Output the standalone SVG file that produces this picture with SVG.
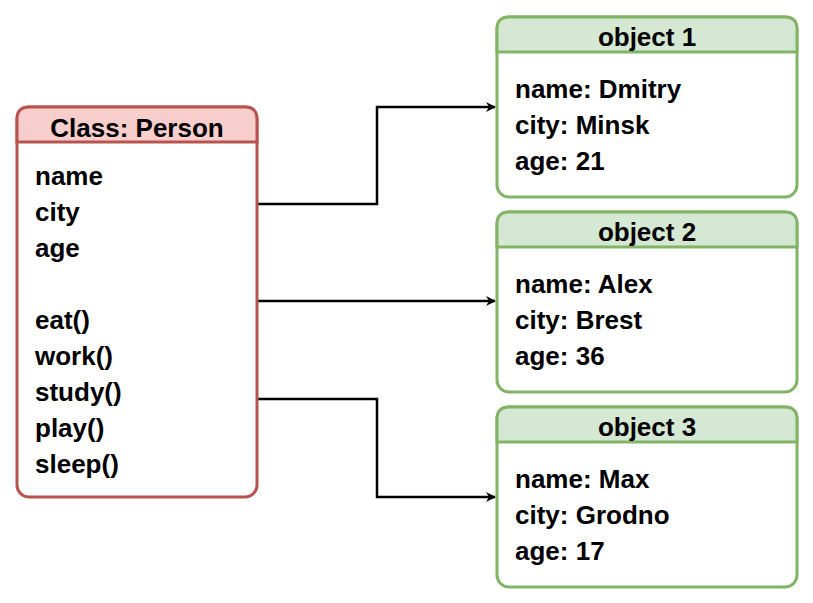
<svg xmlns="http://www.w3.org/2000/svg" width="813" height="603" viewBox="0 0 813 603">
<style>
text{font-family:"Liberation Sans",Arial,sans-serif;font-weight:bold;font-size:26px;fill:#000}
.t{text-anchor:middle}
.cls{fill:#fff;stroke:#b85450;stroke-width:3}
.clh{fill:#f8cecc;stroke:#b85450;stroke-width:3}
.ob{fill:#fff;stroke:#82b366;stroke-width:3}
.obh{fill:#d5e8d4;stroke:#82b366;stroke-width:3}
.c{fill:none;stroke:#000;stroke-width:2.5}
</style>
<defs><marker id="a" markerWidth="10" markerHeight="10" refX="9" refY="5" orient="auto" markerUnits="userSpaceOnUse"><path d="M0,0 L10,5 L0,10 L3,5 Z" fill="#000"/></marker></defs>
<rect width="813" height="603" fill="#fff"/>
<g id="connectors">
<path class="c" d="M257,204 H377 V107 H495" marker-end="url(#a)"/>
<path class="c" d="M257,301 H495" marker-end="url(#a)"/>
<path class="c" d="M257,399 H377 V497 H495" marker-end="url(#a)"/>
</g>
<g id="person">
<rect class="cls" x="17" y="107" width="240" height="390" rx="12"/>
<path class="clh" d="M17,142 V119 Q17,107 29,107 H245 Q257,107 257,119 V142 Z"/>
<text class="t" x="137" y="137">Class: Person</text>
<text x="35" y="185">name</text><text x="35" y="221">city</text><text x="35" y="257">age</text>
<text x="35" y="329">eat()</text><text x="35" y="365">work()</text><text x="35" y="401">study()</text><text x="35" y="437">play()</text><text x="35" y="473">sleep()</text>
</g>
<g id="obj1">
<rect class="ob" x="497" y="17" width="300" height="180" rx="12"/>
<path class="obh" d="M497,52 V29 Q497,17 509,17 H785 Q797,17 797,29 V52 Z"/>
<text class="t" x="647" y="46">object 1</text>
<text x="515" y="98">name: Dmitry</text><text x="515" y="134">city: Minsk</text><text x="515" y="170">age: 21</text>
</g>
<g id="obj2">
<rect class="ob" x="497" y="212" width="300" height="180" rx="12"/>
<path class="obh" d="M497,247 V224 Q497,212 509,212 H785 Q797,212 797,224 V247 Z"/>
<text class="t" x="647" y="241">object 2</text>
<text x="515" y="293">name: Alex</text><text x="515" y="329">city: Brest</text><text x="515" y="365">age: 36</text>
</g>
<g id="obj3">
<rect class="ob" x="497" y="407" width="300" height="180" rx="12"/>
<path class="obh" d="M497,442 V419 Q497,407 509,407 H785 Q797,407 797,419 V442 Z"/>
<text class="t" x="647" y="436">object 3</text>
<text x="515" y="488">name: Max</text><text x="515" y="524">city: Grodno</text><text x="515" y="560">age: 17</text>
</g>
</svg>
